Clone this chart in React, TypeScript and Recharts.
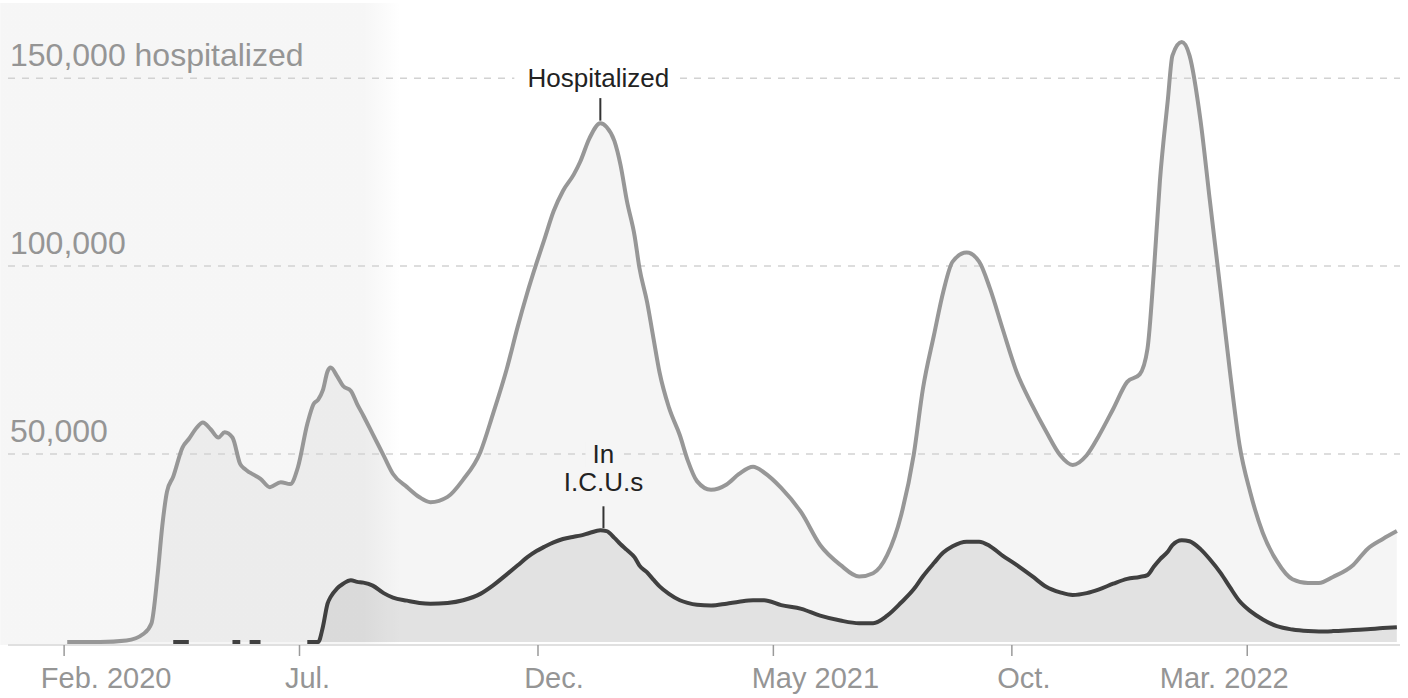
import {
  Area,
  ComposedChart,
  Line,
  ReferenceArea,
  ReferenceDot,
  ReferenceLine,
  XAxis,
  YAxis,
} from "recharts";

// Readings, in thousands of patients.
const dates = [
  "2020-02-03", "2020-02-24", "2020-03-12", "2020-03-23", "2020-03-28", "2020-04-01",
  "2020-04-04", "2020-04-07", "2020-04-11", "2020-04-17", "2020-04-21", "2020-04-26",
  "2020-04-30", "2020-05-05", "2020-05-10", "2020-05-14", "2020-05-19", "2020-05-24",
  "2020-05-27", "2020-05-30", "2020-06-06", "2020-06-12", "2020-06-19", "2020-06-25",
  "2020-06-30", "2020-07-06", "2020-07-10", "2020-07-13", "2020-07-16", "2020-07-19",
  "2020-07-21", "2020-07-25", "2020-07-29", "2020-08-03", "2020-08-07", "2020-08-11",
  "2020-08-17", "2020-08-24", "2020-08-30", "2020-09-08", "2020-09-16", "2020-09-23",
  "2020-10-04", "2020-10-14", "2020-10-25", "2020-11-02", "2020-11-11", "2020-11-18",
  "2020-11-24", "2020-11-30", "2020-12-05", "2020-12-11", "2020-12-17", "2020-12-24",
  "2020-12-28", "2021-01-03", "2021-01-10", "2021-01-14", "2021-01-19", "2021-01-23",
  "2021-01-27", "2021-02-01", "2021-02-04", "2021-02-09", "2021-02-13", "2021-02-17",
  "2021-02-23", "2021-03-02", "2021-03-07", "2021-03-13", "2021-03-22", "2021-04-01",
  "2021-04-09", "2021-04-18", "2021-04-25", "2021-05-06", "2021-05-19", "2021-05-31",
  "2021-06-13", "2021-06-25", "2021-07-04", "2021-07-13", "2021-07-22", "2021-07-30",
  "2021-08-05", "2021-08-12", "2021-08-18", "2021-08-24", "2021-09-02", "2021-09-10",
  "2021-09-17", "2021-09-25", "2021-10-04", "2021-10-14", "2021-10-23", "2021-11-01",
  "2021-11-09", "2021-11-18", "2021-11-26", "2021-12-05", "2021-12-14", "2021-12-22",
  "2021-12-27", "2021-12-31", "2022-01-04", "2022-01-09", "2022-01-12", "2022-01-18",
  "2022-01-23", "2022-01-30", "2022-02-05", "2022-02-12", "2022-02-18", "2022-02-24",
  "2022-03-03", "2022-03-11", "2022-03-20", "2022-03-30", "2022-04-09", "2022-04-16",
  "2022-04-25", "2022-05-08", "2022-05-17", "2022-05-27", "2022-06-05",
];

const hospitalized = [
  0, 0, 0.4, 2.2, 4.9, 18,
  31, 40, 44, 51.8, 54, 57,
  58.4, 56.6, 54.4, 55.8, 54.4, 47.3,
  46, 45.1, 43.4, 41.2, 42.5, 42,
  46.5, 58, 63.3, 64.5, 67, 72,
  73, 70.8, 68.1, 66.8, 63.3, 60.2,
  55.3, 49.6, 44.7, 41.2, 38.5, 37.2,
  38.6, 43.2, 50.5, 60.5, 72.7, 83.9,
  92.7, 100.7, 107, 114.6, 120, 124.4,
  127.7, 134, 138, 137, 133.3, 126.8,
  117.4, 108, 99.7, 90.4, 81, 71.7,
  62.4, 55, 48.4, 42.8, 40.5, 41.9,
  44.7, 46.6, 45.1, 41, 34.4, 25.8,
  20.5, 17.4, 18.3, 23.1, 33.8, 49.7,
  67.5, 81.6, 93.2, 101.2, 103.6, 101.2,
  94, 83.4, 71.9, 63, 56, 49.7,
  47.1, 49.7, 55, 62, 69.2, 71.2,
  78, 98, 122.8, 144, 156, 159.6,
  156, 138.8, 117.5, 93, 71.6, 52.5,
  39.7, 29, 21.5, 16.7, 15.7, 15.7,
  17.3, 20.5, 24.7, 27.4, 29.5,
];

// null = no I.C.U. figure reported that day
const inICU: (number | null)[] = [
  null, null, null, null, null, null,
  null, null, 0, 0, 0, null,
  null, null, null, null, 0, 0,
  null, 0, 0, null, null, null,
  null, 0, 0, 0, 4, 10.2,
  12, 14.2, 15.5, 16.4, 16, 15.8,
  15, 13, 11.8, 11, 10.4, 10.2,
  10.4, 11.1, 12.8, 15, 18, 20.4,
  22.5, 24.2, 25.3, 26.5, 27.4, 28,
  28.3, 29, 29.7, 29.5, 27.7, 26,
  24.5, 22.5, 20.4, 18.5, 16.6, 14.8,
  12.8, 11.1, 10.4, 9.9, 9.7, 10.2,
  10.7, 11.1, 11.1, 9.8, 8.8, 7,
  5.7, 5, 5, 7, 10.5, 14,
  17.5, 21, 23.8, 25.5, 26.7, 26.7,
  25.5, 23, 20.5, 17.5, 14.7, 13.2,
  12.5, 13, 14, 15.5, 16.8, 17.3,
  17.8, 20, 22, 24, 25.8, 27.1,
  26.8, 24.7, 22, 18.3, 14.5, 10.9,
  8.2, 6, 4.2, 3.3, 2.9, 2.8,
  2.9, 3.2, 3.4, 3.7, 3.9,
];

const monthTicks = ["2020-02-01", "2020-07-01", "2020-12-01", "2021-05-01", "2021-10-01", "2022-03-01"];
const monthLabels = ["Feb. 2020", "Jul.", "Dec.", "May 2021", "Oct.", "Mar. 2022"];
const yTicks = [50000, 100000, 150000];
const yLabels = ["50,000", "100,000", "150,000 hospitalized"];

const toTime = (d: string) => new Date(d + "T00:00:00Z").getTime();

const data = dates.map((d, i) => ({
  t: toTime(d),
  hosp: hospitalized[i] * 1000,
  icu: inICU[i] === null ? null : (inICU[i] as number) * 1000,
}));

const FONT = '"Liberation Sans", Arial, sans-serif';
// the month labels are not centred on their ticks in the original
const labelShift = [42, 8, 16, 42, 12, -23];

function MonthTick(props: any) {
  const { x, y, index } = props;
  return (
    <text
      x={x + (labelShift[index] ?? 0)}
      y={y + 32}
      textAnchor="middle"
      fontSize={29}
      fill="#959595"
      fontFamily={FONT}
    >
      {monthLabels[index]}
    </text>
  );
}

function gridLabel(text: string) {
  return (props: any) => {
    const vb = props.viewBox || {};
    return (
      <text x={10} y={(vb.y ?? 0) - 12} fontSize={32} fill="#959595" fontFamily={FONT}>
        {text}
      </text>
    );
  };
}

function HospLabel(props: any) {
  const { cx, cy } = props;
  return (
    <g>
      <rect x={cx - 86} y={cy - 15} width={162} height={30} fill="#fff" />
      <text x={cx - 2} y={cy + 9} textAnchor="middle" fontSize={26} fill="#222" fontFamily={FONT}>
        Hospitalized
      </text>
    </g>
  );
}

function IcuLabel(props: any) {
  const { cx, cy } = props;
  return (
    <g>
      <rect x={cx - 18} y={cy - 13} width={36} height={26} fill="#f5f5f5" />
      <text x={cx} y={cy + 9} textAnchor="middle" fontSize={26} fill="#222" fontFamily={FONT}>
        In
      </text>
      <text x={cx} y={cy + 37} textAnchor="middle" fontSize={26} fill="#222" fontFamily={FONT}>
        I.C.U.s
      </text>
    </g>
  );
}

export default function App() {
  const hospPeak = toTime("2021-01-10");
  const icuPeak = toTime("2021-01-12");

  return (
    <div style={{ width: 1408, height: 698, background: "#fff", fontFamily: FONT }}>
      <style>{"body{margin:0}"}</style>
      <ComposedChart
        width={1408}
        height={698}
        data={data}
        margin={{ top: 3, right: 8, bottom: 13, left: 8 }}
      >
        <defs>
          <linearGradient id="earlyBand" x1="0" y1="0" x2="1" y2="0">
            <stop offset="0%" stopColor="#000" stopOpacity={0.035} />
            <stop offset="91%" stopColor="#000" stopOpacity={0.035} />
            <stop offset="100%" stopColor="#000" stopOpacity={0} />
          </linearGradient>
        </defs>
        <XAxis
          dataKey="t"
          type="number"
          scale="time"
          domain={[toTime("2019-12-27"), toTime("2022-06-07")]}
          ticks={monthTicks.map(toTime)}
          tick={<MonthTick />}
          height={40}
          tickSize={11}
          tickMargin={0}
          axisLine={{ stroke: "#e0e0e0", strokeWidth: 2 }}
          tickLine={{ stroke: "#9a9a9a", strokeWidth: 1.5 }}
          interval={0}
        />
        <YAxis type="number" domain={[-800, 170000]} hide />
        <ReferenceArea
          x1={toTime("2019-12-22")}
          x2={toTime("2020-09-04")}
          y1={-800}
          y2={170000}
          fill="url(#earlyBand)"
          fillOpacity={1}
          stroke="none"
          ifOverflow="visible"
        />
        {yTicks.map((v, i) => (
          <ReferenceLine
            key={v}
            y={v}
            stroke="#d2d2d2"
            strokeWidth={1.5}
            strokeDasharray="7 7"
            label={gridLabel(yLabels[i])}
          />
        ))}
        <Area
          type="monotone"
          dataKey="hosp"
          stroke="none"
          fill="#000"
          fillOpacity={0.04}
          isAnimationActive={false}
        />
        <Area
          type="monotone"
          dataKey="icu"
          stroke="none"
          fill="#000"
          fillOpacity={0.075}
          connectNulls={false}
          isAnimationActive={false}
        />
        <Line
          type="monotone"
          dataKey="hosp"
          stroke="#979797"
          strokeWidth={4}
          dot={false}
          isAnimationActive={false}
        />
        <Line
          type="monotone"
          dataKey="icu"
          stroke="#404040"
          strokeWidth={4}
          dot={false}
          connectNulls={false}
          isAnimationActive={false}
        />
        <ReferenceLine
          segment={[
            { x: hospPeak, y: 138700 },
            { x: hospPeak, y: 144700 },
          ]}
          stroke="#333"
          strokeWidth={2}
        />
        <ReferenceLine
          segment={[
            { x: icuPeak, y: 30300 },
            { x: icuPeak, y: 36100 },
          ]}
          stroke="#333"
          strokeWidth={2}
        />
        <ReferenceDot x={hospPeak} y={150000} r={0} shape={<HospLabel />} ifOverflow="visible" />
        <ReferenceDot x={icuPeak} y={50000} r={0} shape={<IcuLabel />} ifOverflow="visible" />
      </ComposedChart>
    </div>
  );
}
